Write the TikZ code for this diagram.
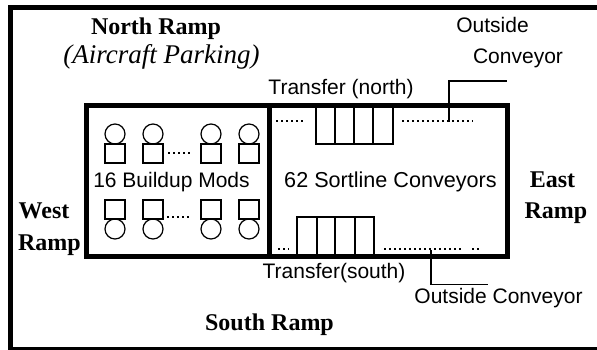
\documentclass[tikz,border=0pt]{standalone}
\usepackage{fontspec}
\setmainfont{Liberation Serif}
\setsansfont{Liberation Sans}
\usetikzlibrary{positioning}

\begin{document}
\begin{tikzpicture}[
    x=1pt, y=-1pt,
    wall/.style={line width=5pt, line join=miter},
    thin box/.style={line width=1.2pt},
    dots/.style={line width=1.5pt, dash pattern=on 1.5pt off 3.5pt},
    sans/.style={font=\sffamily\fontsize{21}{23}\selectfont, inner sep=0pt, anchor=base},
    ramp/.style={font=\rmfamily\bfseries\fontsize{24}{26}\selectfont, inner sep=0pt, anchor=base}
]
\useasboundingbox (0,0) rectangle (597,350);

% Outer frame
\draw[wall] (597,7.5) -- (10,7.5) -- (10,349) -- (597,349);

% Building
\draw[wall] (86,106) rectangle (507,256);
\draw[wall] (269,106) -- (269,256);

% Buildup mods
\foreach \x in {115,153,211,249} {
  \draw[thin box] (\x,134) circle (10);
  \draw[thin box] (\x-10,144) rectangle (\x+10,163);
  \draw[thin box] (\x-10,200) rectangle (\x+10,219);
  \draw[thin box] (\x,229) circle (10);
}
\draw[dots] (168,153) -- (191,153);
\draw[dots] (167,217) -- (190,217);

% Transfers
\draw[thin box] (316,106) rectangle (393,144);
\foreach \x in {335,354,373} \draw[thin box] (\x,106) -- (\x,144);
\draw[thin box] (297,217) rectangle (374,256);
\foreach \x in {317,335,355} \draw[thin box] (\x,217) -- (\x,256);

% Dots
\draw[dots] (276,121) -- (306,121);
\draw[dots] (402,121) -- (473,121);
\draw[dots] (278,249) -- (289,249);
\draw[dots] (384,249) -- (461,249);
\draw[dots] (472,249) -- (482,249);

% Outside conveyors
\coordinate (north in) at (449,122);
\coordinate (north out) at (507,81);
\coordinate (south in) at (431,250);
\coordinate (south out) at (488,284.5);
\draw[thin box] (north in) |- (north out);
\draw[thin box] (south in) |- (south out);

% Labels
\node[ramp] (north) at (156,35) {North Ramp};
\node[font=\rmfamily\itshape\fontsize{27}{29}\selectfont, inner sep=0pt, anchor=base] (parking) at (161.5,64) {(Aircraft Parking)};
\node[ramp] (west) at (44,218) {West};
\node[ramp] (westb) at (49.5,250) {Ramp};
\node[ramp] (east) at (552.5,187) {East};
\node[ramp] (eastb) at (556,218) {Ramp};
\node[ramp] (south) at (269.5,330) {South Ramp};
\node[sans] (out n) at (492.5,33) {Outside};
\node[sans] (out nb) at (518,64) {Conveyor};
\node[sans] (tn) at (341,95) {Transfer (north)};
\node[sans] (ts) at (334,278) {Transfer(south)};
\node[sans] (out s) at (498.5,303) {Outside Conveyor};
\node[sans] (mods) at (171.5,187) {16 Buildup Mods};
\node[sans, font=\sffamily\fontsize{21.6}{23}\selectfont] (sort) at (390.5,187) {62 Sortline Conveyors};

\end{tikzpicture}
\end{document}
